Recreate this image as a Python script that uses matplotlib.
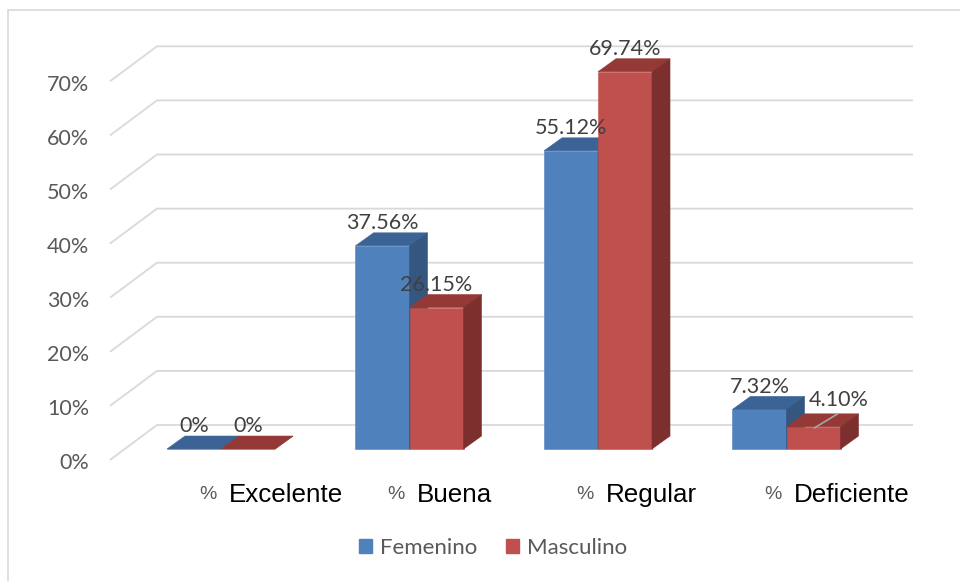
import matplotlib
matplotlib.use("Agg")
import matplotlib.pyplot as plt
from matplotlib.patches import Polygon, Patch, Rectangle

# percentages per rating, by gender
categories = ["Excelente", "Buena", "Regular", "Deficiente"]
femenino = [0.0, 37.56, 55.12, 7.32]
masculino = [0.0, 26.15, 69.74, 4.10]
fem_labels = ["0%", "37.56%", "55.12%", "7.32%"]
mas_labels = ["0%", "26.15%", "69.74%", "4.10%"]
y_ticks = [0, 10, 20, 30, 40, 50, 60, 70]

# colours: front face, top face, side face
BLUE = ("#4F81BD", "#3B6395", "#34567F")
RED = ("#C0504D", "#953937", "#7D2F2D")
GRID = "#D9D9D9"

# pseudo-3D geometry in data units (x: category spacing, y: percent)
BAR_W = 0.2865
DX, DY = 0.0955, 2.40          # depth of a bar
WALL_FX, WALL_FY = -0.589, -2.03   # front-left corner of floor
WALL_BX, WALL_BY = -0.3395, 4.44   # back-left corner of the wall
WALL_RX = 3.671


def draw_bar(ax, x0, h, colors):
    front, top, side = colors
    x1 = x0 + BAR_W
    ax.add_patch(Polygon([(x0, 0), (x1, 0), (x1, h), (x0, h)],
                         closed=True, fc=front, ec=front, lw=0.4, zorder=3))
    ax.add_patch(Polygon([(x0, h), (x1, h), (x1 + DX, h + DY), (x0 + DX, h + DY)],
                         closed=True, fc=top, ec=top, lw=0.4, zorder=3))
    ax.add_patch(Polygon([(x1, 0), (x1 + DX, DY), (x1 + DX, h + DY), (x1, h)],
                         closed=True, fc=side, ec=side, lw=0.4, zorder=3))


fig = plt.figure(figsize=(9.6, 5.81), dpi=100)
ax = fig.add_axes([0, 0, 1, 1])
ax.set_xlim(-1.1724, 3.9204)
ax.set_ylim(-24.4, 83.0)
ax.axis("off")

# chart border
fig.patches.append(Rectangle((8 / 960, -0.1), 1.2, 1.1 - 10 / 581,
                             transform=fig.transFigure, fill=False,
                             ec=GRID, lw=1.2))

# gridlines on the back wall plus the left wall diagonal
for v in y_ticks:
    ax.plot([WALL_FX, WALL_BX, WALL_RX],
            [v + WALL_FY, v + WALL_BY, v + WALL_BY],
            color=GRID, lw=1.3, zorder=1, solid_capstyle="butt")
    ax.text(-0.70, v + WALL_FY - 0.6, f"{v}%", ha="right", va="center",
            fontsize=15.5, color="#595959", family="Lato")

for i, cat in enumerate(categories):
    draw_bar(ax, i - BAR_W, femenino[i], BLUE)
    draw_bar(ax, i, masculino[i], RED)

    # data labels
    ax.text(i - BAR_W / 2, femenino[i] + DY + 1.8, fem_labels[i],
            ha="center", va="center", fontsize=15.5, color="#404040",
            family="Lato", zorder=4)
    if i == 3:
        lx, ly = i + BAR_W / 2 + 0.133, masculino[i] + 4.95
        ax.plot([i + BAR_W / 2 + 0.005, i + BAR_W / 2 + 0.128],
                [masculino[i] - 0.2, masculino[i] + 2.4],
                color="#A6A6A6", lw=1.2, zorder=4)
    else:
        lx, ly = i + BAR_W / 2, masculino[i] + DY + 1.8
    ax.text(lx, ly, mas_labels[i], ha="center", va="center", fontsize=15.5,
            color="#404040", family="Lato", zorder=4)

    # category labels
    ax.text(i - 0.118, -8.4, "%", ha="left", va="center", fontsize=14,
            color="#595959", family="Liberation Sans")
    ax.text(i + 0.04, -8.5, cat, ha="left", va="center", fontsize=18.7,
            color="black", family="Liberation Sans")

handles = [Patch(fc=BLUE[0], ec=BLUE[0], label="Femenino"),
           Patch(fc=RED[0], ec=RED[0], label="Masculino")]
leg = fig.legend(handles=handles, loc="center", bbox_to_anchor=(493 / 960, 33 / 581),
                 ncol=2, frameon=False, handlelength=0.6, handleheight=0.6,
                 handletextpad=0.35, columnspacing=1.3,
                 prop={"family": "Lato", "size": 16})
for t in leg.get_texts():
    t.set_color("#595959")

fig.savefig("out.png", dpi=100)
